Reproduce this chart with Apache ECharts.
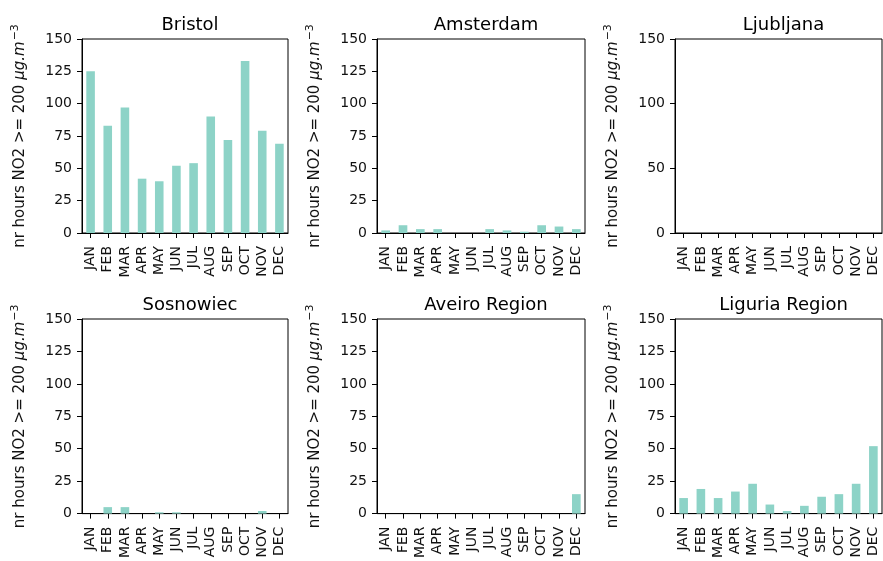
<!DOCTYPE html>
<html>
<head>
<meta charset="utf-8">
<script src="https://cdn.jsdelivr.net/npm/echarts@6/dist/echarts.min.js"></script>
<style>html,body{margin:0;padding:0;background:#fff}#c{width:883px;height:561px}</style>
</head>
<body>
<div id="c"></div>
<script>
var months = ['JAN','FEB','MAR','APR','MAY','JUN','JUL','AUG','SEP','OCT','NOV','DEC'];
var cities = ['Bristol','Amsterdam','Ljubljana','Sosnowiec','Aveiro Region','Liguria Region'];
var bristol   = [125, 83, 97, 42, 40, 52, 54, 90, 72, 133, 79, 69];
var amsterdam = [2, 6, 3, 3, 0, 0, 3, 2, 1, 6, 5, 3];
var ljubljana = [0, 0, 0, 0, 0, 0, 0, 0, 0, 0, 0, 0];
var sosnowiec = [0, 5, 5, 0, 1, 1, 0, 0, 0, 0, 2, 0];
var aveiro    = [0, 0, 0, 0, 0, 0, 0, 0, 0, 0, 0, 15];
var liguria   = [12, 19, 12, 17, 23, 7, 2, 6, 13, 15, 23, 52];
var yIntervals = [25, 25, 50, 25, 25, 25];
var yMax = 150;

var seriesData = [bristol, amsterdam, ljubljana, sosnowiec, aveiro, liguria];
var FONT = 'DejaVu Sans';
var grids = [
  {left: 82, top: 39, width: 206, height: 194},
  {left: 377, top: 39, width: 208, height: 194},
  {left: 675, top: 39, width: 207, height: 194},
  {left: 82, top: 319, width: 206, height: 195},
  {left: 377, top: 319, width: 208, height: 195},
  {left: 675, top: 319, width: 207, height: 195}
];
var option = {
  animation: false,
  backgroundColor: '#fff',
  title: [], grid: [], xAxis: [], yAxis: [], series: []
};
grids.forEach(function (g, i) {
  option.grid.push({left: g.left, top: g.top, width: g.width, height: g.height,
    show: true, borderColor: '#000', borderWidth: 1, containLabel: false});
  option.title.push({text: cities[i], left: g.left + g.width / 2, top: g.top - 28,
    textAlign: 'center',
    textStyle: {fontFamily: FONT, fontSize: 18, fontWeight: 'normal', color: '#000'}});
  option.xAxis.push({type: 'category', gridIndex: i, data: months,
    axisLine: {show: true, lineStyle: {color: '#000', width: 1}},
    axisTick: {show: true, alignWithLabel: true, length: 5, lineStyle: {color: '#000'}},
    axisLabel: {rotate: 90, interval: 0, margin: 13, fontFamily: FONT, fontSize: 14, color: '#111'},
    splitLine: {show: false}});
  option.yAxis.push({type: 'value', gridIndex: i, min: 0, max: yMax, interval: yIntervals[i],
    axisLine: {show: true, lineStyle: {color: '#000', width: 1}},
    axisTick: {show: true, length: 5, lineStyle: {color: '#000'}},
    axisLabel: {margin: 10, fontFamily: FONT, fontSize: 14, color: '#111'},
    splitLine: {show: false},
    name: '{n|nr hours NO2 >= 200 }{i|\u03bcg.m}{s|\u22123}',
    nameLocation: 'middle', nameRotate: 90, nameGap: 52,
    nameTextStyle: {fontFamily: FONT, fontSize: 15, color: '#111',
      rich: {
        n: {fontFamily: FONT, fontSize: 15, color: '#111'},
        i: {fontFamily: FONT, fontSize: 15, fontStyle: 'italic', color: '#111'},
        s: {fontFamily: FONT, fontSize: 11, color: '#111', verticalAlign: 'top', padding: [0, 0, 9, 1]}
      }}});
  option.series.push({type: 'bar', xAxisIndex: i, yAxisIndex: i, data: seriesData[i],
    barWidth: '50%', itemStyle: {color: '#8dd3c7'}});
});
var chart = echarts.init(document.getElementById('c'), null, {renderer: 'canvas'});
chart.setOption(option);
</script>
</body>
</html>
